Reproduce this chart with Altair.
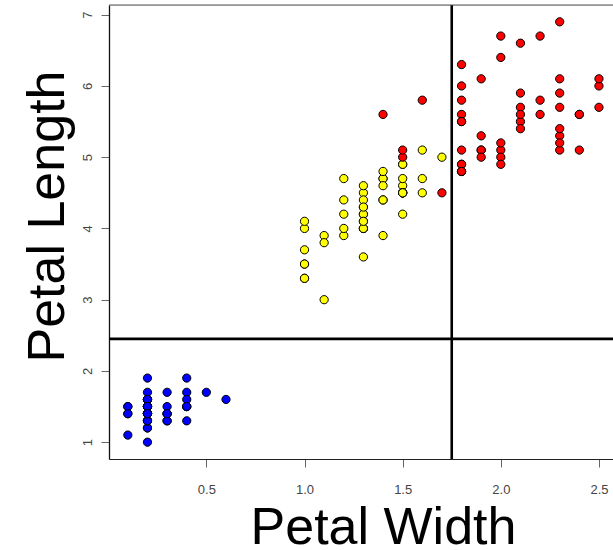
import altair as alt
import pandas as pd

# Iris petal measurements (in original data order)
petal_length = [
    1.4,1.4,1.3,1.5,1.4,1.7,1.4,1.5,1.4,1.5,1.5,1.6,1.4,1.1,1.2,1.5,1.3,1.4,1.7,1.5,
    1.7,1.5,1.0,1.7,1.9,1.6,1.6,1.5,1.4,1.6,1.6,1.5,1.5,1.4,1.5,1.2,1.3,1.4,1.3,1.5,
    1.3,1.3,1.3,1.6,1.9,1.4,1.6,1.4,1.5,1.4,
    4.7,4.5,4.9,4.0,4.6,4.5,4.7,3.3,4.6,3.9,3.5,4.2,4.0,4.7,3.6,4.4,4.5,4.1,4.5,3.9,
    4.8,4.0,4.9,4.7,4.3,4.4,4.8,5.0,4.5,3.5,3.8,3.7,3.9,5.1,4.5,4.5,4.7,4.4,4.1,4.0,
    4.4,4.6,4.0,3.3,4.2,4.2,4.2,4.3,3.0,4.1,
    6.0,5.1,5.9,5.6,5.8,6.6,4.5,6.3,5.8,6.1,5.1,5.3,5.5,5.0,5.1,5.3,5.5,6.7,6.9,5.0,
    5.7,4.9,6.7,4.9,5.7,6.0,4.8,4.9,5.6,5.8,6.1,6.4,5.6,5.1,5.6,6.1,5.6,5.5,4.8,5.4,
    5.6,5.1,5.1,5.9,5.7,5.2,5.0,5.2,5.4,5.1,
]
petal_width = [
    0.2,0.2,0.2,0.2,0.2,0.4,0.3,0.2,0.2,0.1,0.2,0.2,0.1,0.1,0.2,0.4,0.4,0.3,0.3,0.3,
    0.2,0.4,0.2,0.5,0.2,0.2,0.4,0.2,0.2,0.2,0.2,0.4,0.1,0.2,0.2,0.2,0.2,0.1,0.2,0.2,
    0.3,0.3,0.2,0.6,0.4,0.3,0.2,0.2,0.2,0.2,
    1.4,1.5,1.5,1.3,1.5,1.3,1.6,1.0,1.3,1.4,1.0,1.5,1.0,1.4,1.3,1.4,1.5,1.0,1.5,1.1,
    1.8,1.3,1.5,1.2,1.3,1.4,1.4,1.7,1.5,1.0,1.1,1.0,1.2,1.6,1.5,1.6,1.5,1.3,1.3,1.3,
    1.2,1.4,1.2,1.0,1.3,1.2,1.3,1.3,1.1,1.3,
    2.5,1.9,2.1,1.8,2.2,2.1,1.7,1.8,1.8,2.5,2.0,1.9,2.1,2.0,2.4,2.3,1.8,2.2,2.3,1.5,
    2.3,2.0,2.0,1.8,2.1,1.8,1.8,1.8,2.1,1.6,1.9,2.0,2.2,1.5,1.4,2.3,2.4,1.8,1.8,2.1,
    2.4,2.3,1.9,2.3,2.5,2.3,1.9,2.0,2.3,1.8,
]
species = ["setosa"] * 50 + ["versicolor"] * 50 + ["virginica"] * 50
species_names = ["setosa", "versicolor", "virginica"]
species_colors = ["#0000FF", "#FFFF00", "#FF0000"]

split_width = [1.75]
split_length = [2.45]

x_ticks = [0.5, 1.0, 1.5, 2.0, 2.5]
y_ticks = [1, 2, 3, 4, 5, 6, 7]

df = pd.DataFrame({
    "width": petal_width,
    "length": petal_length,
    "species": species,
    "idx": list(range(len(species))),
})

x_scale = alt.Scale(domain=[0.004, 2.5715], nice=False, zero=False)
y_scale = alt.Scale(domain=[0.764, 7.136], nice=False, zero=False)

x_axis = alt.Axis(
    values=x_ticks, format=".1f", grid=False, tickSize=8, tickColor="#666666",
    domainColor="#222222", labelFontSize=13, labelColor="#444444",
    labelBaseline="alphabetic", labelPadding=26, labelFlush=False,
    title="Petal Width", titleFontSize=52, titleFontWeight="normal",
    titleColor="#000000", titleX=274, titleY=84, titleAlign="center",
    titleBaseline="alphabetic",
)
y_axis = alt.Axis(
    values=y_ticks, format="d", grid=False, tickSize=8, tickColor="#666666",
    domainColor="#111111", domainWidth=1.3, labelFontSize=13, labelColor="#444444",
    labelAngle=270, labelAlign="center", labelBaseline="alphabetic",
    labelPadding=10, labelFlush=False,
    title="Petal Length", titleFontSize=52, titleFontWeight="normal",
    titleColor="#000000", titleAngle=270, titleX=-46, titleY=211,
    titleAlign="center", titleBaseline="alphabetic",
)

points = alt.Chart(df).mark_point(
    filled=True, shape="circle", size=68, stroke="#000000", strokeWidth=1, opacity=1
).encode(
    x=alt.X("width:Q", scale=x_scale, axis=x_axis),
    y=alt.Y("length:Q", scale=y_scale, axis=y_axis),
    fill=alt.Fill("species:N", scale=alt.Scale(domain=species_names, range=species_colors), legend=None),
    order=alt.Order("idx:Q"),
)

vline = alt.Chart(pd.DataFrame({"w": split_width})).mark_rule(
    color="#000000", strokeWidth=2.6
).encode(x=alt.X("w:Q", scale=x_scale))

hline = alt.Chart(pd.DataFrame({"l": split_length})).mark_rule(
    color="#000000", strokeWidth=2.6
).encode(y=alt.Y("l:Q", scale=y_scale))

top_border = alt.Chart(pd.DataFrame({"a": [0]})).mark_rule(
    color="#555555", strokeWidth=1
).encode(x=alt.value(0), x2=alt.value(504), y=alt.value(0))

chart = alt.layer(points, vline, hline, top_border).properties(
    width=504, height=454,
    autosize=alt.AutoSizeParams(type="none"),
    padding={"left": 109, "top": 5, "right": 0, "bottom": 91},
    background="#ffffff",
).configure_view(stroke=None).configure(font="Liberation Sans")

chart.save("out.html", embed_options={"renderer": "svg", "actions": False})
